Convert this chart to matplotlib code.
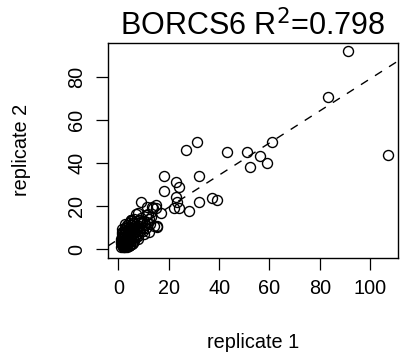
import matplotlib
matplotlib.use("Agg")
import matplotlib.pyplot as plt

plt.rcParams['font.family'] = ['Liberation Sans', 'DejaVu Sans']

# values
rep1 = [91.0, 83.1, 106.9, 31.1, 27.0, 43.0, 51.1, 60.9, 56.1, 59.1, 52.1,
        18.3, 32.0, 23.0, 24.1, 18.1, 23.0, 23.2, 37.1, 39.2, 32.0, 9.1,
        22.1, 24.2, 27.9, 13.9, 15.0, 16.9, 15.2, 7.0, 4.9, 11.5, 13.4, 15.1,
        5.2, 7.8, 15.5,
        1.2, 1.5, 1.8, 2.0, 2.2, 2.5, 2.8, 3.0, 3.1, 3.3, 3.5, 3.8, 4.0, 4.2,
        4.4, 4.7, 5.0, 5.2, 5.5, 5.8, 6.0, 6.3, 6.6, 7.0, 7.3, 7.6, 8.0, 8.4,
        8.8, 9.2, 9.6, 10.0, 10.5, 11.0, 11.5, 12.0, 12.5, 13.0, 2.0, 3.0,
        4.0, 5.0, 6.0, 1.6, 2.4, 3.6, 6.0, 8.0, 10.0, 12.0, 14.0, 1.3, 1.9,
        2.6, 3.4, 4.1, 1.4, 2.1, 2.9, 3.7, 4.5, 1.1, 1.7,
        1.2, 1.4, 1.6, 1.9, 2.3, 2.7, 3.2, 3.9, 4.6, 5.3, 6.8, 7.4, 8.2, 9.0,
        1.3, 1.8, 2.5, 3.3, 4.2, 5.1, 6.1, 7.2, 2.2, 3.5, 4.8, 1.5, 2.8, 9.8,
        10.8, 11.8, 6.4, 7.9, 5.6, 1.1]
rep2 = [91.9, 70.7, 43.7, 49.9, 46.0, 45.0, 45.0, 49.9, 43.3, 39.9, 38.0,
        34.0, 34.0, 31.0, 29.0, 27.0, 24.1, 22.1, 23.9, 22.9, 22.1, 22.1,
        19.0, 19.0, 17.9, 19.0, 19.0, 17.0, 10.8, 16.2, 13.3, 19.8, 19.8, 20.5,
        13.6, 16.7, 10.5,
        1.0, 2.1, 3.0, 1.5, 4.2, 2.6, 5.0, 3.4, 1.8, 6.1, 4.4, 2.9, 5.6, 7.0,
        3.8, 6.3, 4.9, 8.0, 6.8, 5.4, 9.1, 7.5, 6.0, 8.6, 10.2, 7.2, 9.4, 11.0,
        8.5, 12.1, 10.1, 13.0, 11.4, 9.8, 12.6, 14.2, 11.8, 15.0, 6.5, 8.0,
        9.6, 11.2, 12.4, 4.8, 7.2, 10.5, 3.0, 5.0, 7.0, 8.0, 10.8, 2.5, 1.2,
        1.0, 2.2, 1.6, 3.6, 3.3, 4.0, 2.3, 2.0, 2.8, 5.8,
        3.9, 5.9, 7.9, 2.7, 5.3, 8.9, 7.8, 8.7, 10.0, 9.7, 10.9, 12.9, 13.8, 14.6,
        6.9, 8.1, 9.9, 11.5, 12.0, 13.4, 14.0, 5.8, 0.9, 1.1, 1.9, 9.3, 11.9, 8.4,
        16.0, 16.4, 3.9, 6.4, 2.4, 4.6]

x_ticks = [0, 20, 40, 60, 80, 100]
y_ticks = [0, 20, 40, 60, 80]

fit_intercept = 4.6
fit_slope = 0.745
r_squared = 0.798
gene = "BORCS6"

fig = plt.figure(figsize=(4.06, 3.57), dpi=100)
ax = fig.add_axes([0.266, 0.2787, 0.7136, 0.6017])

ax.plot(rep1, rep2, 'o', markersize=7.2, markerfacecolor='none',
        markeredgecolor='black', markeredgewidth=1.0, linestyle='none')
ax.axline((0, fit_intercept), slope=fit_slope, color='black', lw=1.0,
          linestyle=(0, (6, 6)))

ax.set_xlim(-4.1, 110.9)
ax.set_ylim(-3.8, 95.8)
ax.set_xticks(x_ticks)
ax.set_yticks(y_ticks)
ax.tick_params(direction='out', length=8.5, width=0.9, labelsize=14.3, pad=7)
ax.tick_params(axis='y', labelrotation=90)
for lab in ax.get_yticklabels():
    lab.set_va('center')
for s in ax.spines.values():
    s.set_linewidth(1.0)

ax.set_title(gene + " R$^2$=" + str(r_squared), fontsize=22, pad=3)
fig.text(0.623, 0.042, "replicate 1", fontsize=14.3, ha='center', va='center')
fig.text(0.054, 0.58, "replicate 2", fontsize=14.3, ha='center', va='center',
         rotation=90)

fig.savefig("out.png", dpi=100)
